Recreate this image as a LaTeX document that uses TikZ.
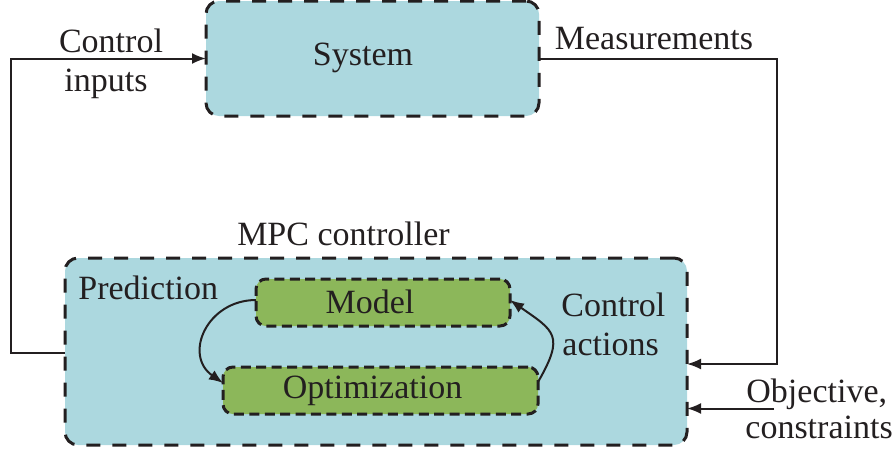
\documentclass[tikz,border=0pt]{standalone}
\usepackage{fontspec}
\setmainfont{Liberation Serif}
\usetikzlibrary{arrows.meta}
\definecolor{boxblue}{RGB}{172,216,223}
\definecolor{boxgreen}{RGB}{140,183,90}
\definecolor{ink}{RGB}{35,31,32}
\tikzset{
  dashedbox/.style={draw=ink, line width=1.5pt, inner sep=0pt, outer sep=0pt},
  bluebox/.style={dashedbox, fill=boxblue, rounded corners=6.5pt,
    dash pattern=on 7pt off 6pt},
  greenbox/.style={dashedbox, fill=boxgreen, rounded corners=5pt,
    dash pattern=on 5pt off 2.7pt},
  lbl/.style={inner sep=0pt, text=ink, font=\fontsize{17}{19}\selectfont},
  conn/.style={draw=ink, line width=1pt, -{Latex[length=7pt,width=5.5pt]}},
}
\begin{document}
\begin{tikzpicture}[x=0.5pt, y=0.5pt]
\useasboundingbox (0,0) rectangle (893,-452);

% boxes
\node[bluebox, minimum width=166.5pt, minimum height=57.5pt] (sys) at (372.5,-58.5) {};
\node[bluebox, minimum width=311pt, minimum height=93.5pt] (mpc) at (376,-351.5) {};
\node[greenbox, minimum width=127pt, minimum height=23.5pt] (model) at (383,-302.5) {};
\node[greenbox, minimum width=157.5pt, minimum height=23.5pt] (opt) at (380.5,-390.5) {};

% box texts
\node[lbl, anchor=base] (systxt) at (363,-65) {System};
\node[lbl, anchor=base] (modeltxt) at (370,-313) {Model};
\node[lbl, anchor=base] (opttxt) at (372.5,-398) {Optimization};
\node[lbl, anchor=base] (mpctxt) at (343.5,-245) {MPC controller};
\node[lbl, anchor=base west] (predtxt) at (78,-299) {Prediction};

% signal labels
\node[lbl, anchor=base] (ci1) at (111,-52) {Control};
\node[lbl, anchor=base] (ci2) at (106,-91) {inputs};
\node[lbl, anchor=base] (meas) at (654,-49) {Measurements};
\node[lbl, anchor=base west] (ca1) at (561,-316) {Control};
\node[lbl, anchor=base west] (ca2) at (562,-355) {actions};
\node[lbl, anchor=base west] (obj1) at (746,-402) {Objective,};
\node[lbl, anchor=base west] (obj2) at (745,-438) {constraints};

% feedback loop
\draw[conn] ([yshift=-0.5pt]mpc.west) -- ++(-54,0) |- (sys.west);
\draw[conn] (sys.east) -- ++(238,0) |- ([yshift=-6.25pt]mpc.east);
\coordinate (objsrc) at (774,-408.5);
\draw[conn] (objsrc) -- (objsrc -| mpc.east);

% inner cycle
\draw[conn] ([yshift=1.25pt]model.west) to[out=180, in=145, looseness=1.4] ([yshift=3.75pt]opt.west);
\draw[conn] ([yshift=4.25pt]opt.east) to[out=60, in=-35, looseness=1.6] ([yshift=1.25pt]model.east);
\end{tikzpicture}
\end{document}
